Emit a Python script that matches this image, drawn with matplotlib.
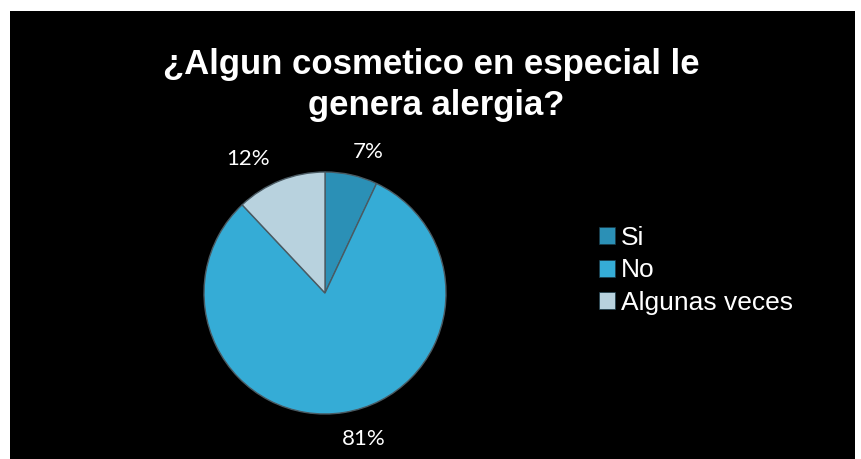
import numpy as np
import matplotlib.pyplot as plt
from matplotlib.patches import Rectangle

# survey answers
categories = ["Si", "No", "Algunas veces"]
shares = [7, 81, 12]
colors = ["#2b90b6", "#35acd6", "#b8d2de"]
title = "¿Algun cosmetico en especial le \ngenera alergia?"

W, H = 861, 459
fig = plt.figure(figsize=(W / 100, H / 100), dpi=100)
fig.patch.set_facecolor("white")

# black panel behind everything
bg = fig.add_axes([0, 0, 1, 1])
bg.set_xlim(0, W)
bg.set_ylim(H, 0)
bg.axis("off")
bg.add_patch(Rectangle((10, 11), 845, 448, facecolor="black", edgecolor="none"))

fig.text(436 / W, 1 - 85 / H, title, ha="center", va="center",
         fontsize=25, fontweight="bold", color="white",
         family="Liberation Sans", linespacing=1.3, multialignment="center")

# pie, centre (325, 293) px, radius 121 px
cx, cy, r = 325, 293, 121
ax = fig.add_axes([(cx - r) / W, (H - cy - r) / H, 2 * r / W, 2 * r / H])
wedges, _, autotexts = ax.pie(
    shares, colors=colors, startangle=90, counterclock=False,
    autopct="%1.0f%%", pctdistance=1.22,
    wedgeprops=dict(edgecolor="#4a5a62", linewidth=1.0),
    textprops=dict(color="white", fontsize=16, family="Lato"))
ax.set_xlim(-1, 1)
ax.set_ylim(-1, 1)

# nudge the value labels to where they sit around the rim
label_angle = [73, -75, 120]
label_rad = [1.22, 1.25, 1.28]
for t, a, rr in zip(autotexts, label_angle, label_rad):
    t.set_position((rr * np.cos(np.radians(a)), rr * np.sin(np.radians(a))))
    t.set_ha("center")
    t.set_va("center")

leg = fig.legend(wedges, categories, loc="upper left",
                 bbox_to_anchor=(575 / W, 1 - 202 / H),
                 frameon=False, labelcolor="white",
                 prop=dict(family="Liberation Sans", size=19),
                 handlelength=0.6, handleheight=0.6, handletextpad=0.25,
                 labelspacing=0.33)
for h in leg.legend_handles:
    h.set_edgecolor("#1a3a48")
    h.set_linewidth(0.5)

fig.savefig("out.png", dpi=100, facecolor="white")
